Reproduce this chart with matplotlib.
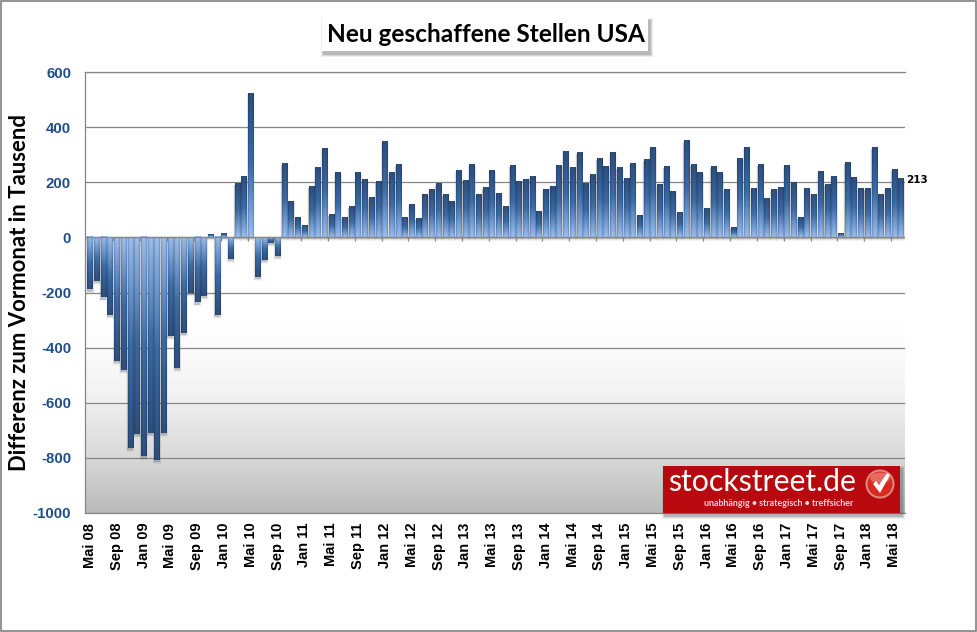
import matplotlib
matplotlib.use('Agg')
import matplotlib.pyplot as plt
from matplotlib.patches import Rectangle, Circle, Polygon, Ellipse
from matplotlib.colors import LinearSegmentedColormap
import numpy as np

plt.rcParams['axes.unicode_minus'] = False

values = [-189, -158, -218, -282, -449, -481, -765, -713, -795, -708, -808, -708,
          -358, -474, -348, -203, -236, -213, 10, -283, 14, -79, 193, 220,
          522, -145, -82, -19, -68, 267, 129, 71, 42, 183, 253, 322,
          81, 235, 71, 111, 235, 208, 144, 202, 347, 235, 264, 71,
          117, 68, 155, 173, 193, 155, 129, 242, 205, 264, 155, 180,
          242, 158, 110, 260, 201, 208, 220, 92, 173, 184, 260, 311,
          253, 307, 195, 227, 285, 256, 307, 253, 212, 267, 77, 282,
          325, 191, 256, 166, 89, 351, 264, 235, 103, 256, 235, 173,
          34, 285, 325, 177, 264, 140, 173, 180, 260, 198, 71, 177,
          155, 238, 191, 220, 12, 271, 216, 177, 177, 325, 155, 177,
          245, 213]
tick_labels = ['Mai 08', 'Sep 08', 'Jan 09', 'Mai 09', 'Sep 09', 'Jan 10', 'Mai 10',
               'Sep 10', 'Jan 11', 'Mai 11', 'Sep 11', 'Jan 12', 'Mai 12', 'Sep 12',
               'Jan 13', 'Mai 13', 'Sep 13', 'Jan 14', 'Mai 14', 'Sep 14', 'Jan 15',
               'Mai 15', 'Sep 15', 'Jan 16', 'Mai 16', 'Sep 16', 'Jan 17', 'Mai 17',
               'Sep 17', 'Jan 18', 'Mai 18']
y_ticks = [-1000, -800, -600, -400, -200, 0, 200, 400, 600]

W, H = 977, 632
GRAY = '#868686'
BLUE = '#1f4e8c'

fig = plt.figure(figsize=(W / 100, H / 100), dpi=100, facecolor='white')
ax = fig.add_axes([85 / W, 1 - 513 / H, 820 / W, 441 / H])

x = np.arange(len(values))
py = 1600 / 441  # data units per pixel
px = 1 / 6.7
x_min, x_max = -5 * px, len(values) - 1 + 4 * px

# background fade towards the bottom
bg_cmap = LinearSegmentedColormap.from_list('bg', ['#ffffff', '#f4f4f4', '#dcdcdc', '#bababa'])
ax.imshow(np.linspace(0, 1, 256).reshape(-1, 1), extent=(x_min, x_max, -1000, -325),
          cmap=bg_cmap, aspect='auto', zorder=0)

ax.set_yticks(y_ticks)
ax.grid(axis='y', color=GRAY, lw=0.9, zorder=1)
ax.set_axisbelow(True)

# bar fill: dark at the tip, light at the base, slightly darker at the sides
bar_cmap = LinearSegmentedColormap.from_list('bar', ['#2b4c79', '#31598d', '#3a689f', '#6690c6', '#94b7e6'])
grad = bar_cmap(np.linspace(0, 1, 128))[:, :3]
side = np.array([0.88, 1.0, 1.04, 1.04, 1.0, 0.88]).reshape(1, -1, 1)
img = np.clip(grad[:, None, :] * side, 0, 1)

width = 0.8
bars = ax.bar(x, values, width=width, color='none', edgecolor='none', zorder=3)
for bar, v in zip(bars, values):
    left = bar.get_x()
    # soft shadow under each bar
    for grow, alpha in [(2.5, 0.05), (1.5, 0.1), (0.6, 0.2)]:
        low = min(v, 0) - (grow + 1.5) * py
        high = max(v, 0) - 1 * py
        ax.add_patch(Rectangle((left - grow * px * 0.6, low), width + 1.2 * grow * px, high - low,
                               fc='#404040', ec='none', alpha=alpha, zorder=2))
    # image rows run from the tip to the base
    data = img if v > 0 else img[::-1]
    ax.imshow(data, extent=(left, left + width, min(v, 0), max(v, 0)), aspect='auto',
              interpolation='bilinear', zorder=3)
ax.set_xlim(x_min, x_max)
ax.set_ylim(-1000, 600)

# zero line with small ticks
tick_pos = x[::4]
ax.axhline(0, color=GRAY, lw=0.9, zorder=4)
ax.vlines(tick_pos - 0.5, -4 * py, 0, color=GRAY, lw=0.9, zorder=4)

ax.set_xticks(tick_pos)
ax.set_xticklabels(tick_labels, rotation=90, fontsize=10.5, fontweight='bold',
                   family='Liberation Sans', color='black')
ax.tick_params(axis='x', length=0, pad=7)
ax.tick_params(axis='y', length=0, pad=10)
for label in ax.get_yticklabels():
    label.set(fontsize=10.8, fontweight='bold', family='Liberation Sans', color=BLUE)

for name in ['left', 'top', 'bottom']:
    ax.spines[name].set_color(GRAY)
    ax.spines[name].set_linewidth(0.9)
ax.spines['right'].set_visible(False)

# last value
ax.text(x_max + 0.1, values[-1] - 6, str(values[-1]), fontsize=7.5, fontweight='bold',
        family='DejaVu Sans', ha='left', va='center', clip_on=False, zorder=5)

# overlay in pixel coordinates for frame, title box and logo
ov = fig.add_axes([0, 0, 1, 1], zorder=10)
ov.set_xlim(0, W)
ov.set_ylim(H, 0)
ov.axis('off')

ov.add_patch(Rectangle((0.8, 0.8), W - 2, H - 2, fc='none', ec='#808080', lw=1.2))

ov.text(20, 292.5, 'Differenz zum Vormonat in Tausend', rotation=90, fontsize=15.9, fontweight='bold',
        family='Lato', ha='center', va='center', color='black')


def shadow(x0, y0, w, h):
    for grow, alpha in [(3, 0.08), (2, 0.12), (1, 0.18)]:
        ov.add_patch(Rectangle((x0 + 2 - grow, y0 + 3 - grow), w + 2 * grow, h + 2 * grow,
                               fc='#303030', ec='none', alpha=alpha))


# title box
shadow(322, 18, 326, 33)
ov.add_patch(Rectangle((322, 18), 326, 33, fc='white', ec='none'))
ov.text(486, 34, 'Neu geschaffene Stellen USA', fontsize=17.6, fontweight='bold', family='Lato',
        ha='center', va='center', color='black')

# logo
shadow(663, 466, 237, 47)
ov.add_patch(Rectangle((663, 466), 237, 47, fc='#b8090e', ec='none'))
ov.text(668, 491, 'stockstreet.de', fontsize=21.8, family='Lato', color='white', ha='left', va='baseline')
ov.text(779, 503.5, 'unabhängig • strategisch • treffsicher', fontsize=6.4, fontweight='bold',
        family='Lato', color='#f3d6d6', ha='center', va='center')
ov.add_patch(Circle((880, 484), 14.5, fc='#e08a80', ec='none'))
ov.add_patch(Circle((880, 484), 12.5, fc='#d8281f', ec='none'))
ov.add_patch(Ellipse((880, 478), 20, 11, fc='#f0857c', ec='none', alpha=0.7))
ov.add_patch(Polygon([(873, 484), (876, 481), (879, 485), (887, 473), (890, 475), (880, 493)],
                     closed=True, fc='white', ec='none'))

fig.savefig('out.png', dpi=100)
